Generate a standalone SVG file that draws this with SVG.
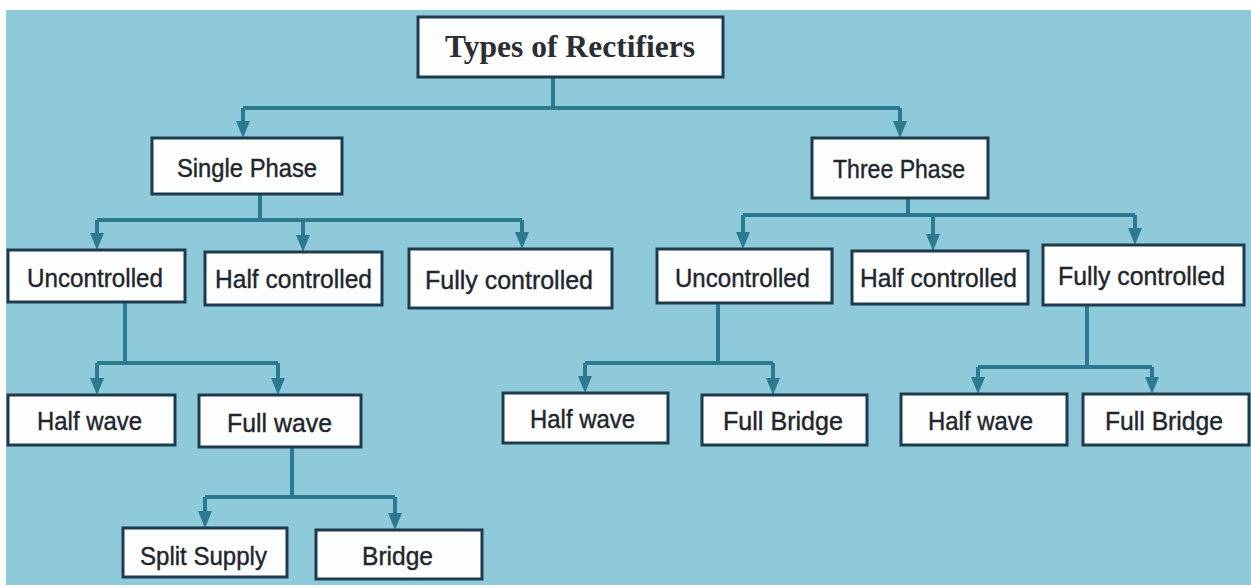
<svg xmlns="http://www.w3.org/2000/svg" width="1251" height="587" viewBox="0 0 1251 587">
<defs>
<style>
.bg{fill:#8FCADB}
.box{fill:#FCFDFD;stroke:#1E3B4E;stroke-width:3}
.lbl{font-family:"Liberation Sans",Arial,sans-serif;font-size:26px;fill:#1E262C;stroke:#1E262C;stroke-width:0.4}
.ttl{font-family:"Liberation Serif","Times New Roman",serif;font-size:31px;font-weight:bold;fill:#2A2F33}
.ln{fill:none;stroke:#2C7A90;stroke-width:4}
.ah{fill:#2C7A90}
</style>
</defs>
<rect class="bg" x="6" y="10" width="1245" height="575"/>
<g id="connectors">
<path class="ln" d="M553,77 V108 M243,108 H900 M243,108 V124 M900,108 V124"/>
<path class="ln" d="M260,194 V220 M97,220 H522 M97,220 V236 M303,220 V238 M522,220 V235"/>
<path class="ln" d="M908,198 V215 M743,215 H1135 M743,215 V235 M933,215 V237 M1135,215 V231"/>
<path class="ln" d="M125,302 V363 M97,363 H278 M97,363 V381 M278,363 V381"/>
<path class="ln" d="M292,447 V497 M205,497 H395 M205,497 V514 M395,497 V516"/>
<path class="ln" d="M718,303 V363 M585,363 H773 M585,363 V379 M773,363 V381"/>
<path class="ln" d="M1087,305 V367 M978,367 H1152 M978,367 V380 M1152,367 V380"/>
<polygon class="ah" points="236,121 250,121 243,138"/>
<polygon class="ah" points="893,121 907,121 900,138"/>
<polygon class="ah" points="90,233 104,233 97,250"/>
<polygon class="ah" points="296,235 310,235 303,252"/>
<polygon class="ah" points="515,232 529,232 522,249"/>
<polygon class="ah" points="736,232 750,232 743,249"/>
<polygon class="ah" points="926,234 940,234 933,251"/>
<polygon class="ah" points="1128,228 1142,228 1135,245"/>
<polygon class="ah" points="90,378 104,378 97,395"/>
<polygon class="ah" points="271,378 285,378 278,395"/>
<polygon class="ah" points="198,511 212,511 205,528"/>
<polygon class="ah" points="388,513 402,513 395,530"/>
<polygon class="ah" points="578,376 592,376 585,393"/>
<polygon class="ah" points="766,378 780,378 773,395"/>
<polygon class="ah" points="971,377 985,377 978,394"/>
<polygon class="ah" points="1145,377 1159,377 1152,394"/>
</g>
<g id="n-root"><rect class="box" x="418" y="17" width="305" height="60"/><text class="ttl" x="445" y="57" textLength="250" lengthAdjust="spacingAndGlyphs">Types of Rectifiers</text></g>
<g id="n-single"><rect class="box" x="152" y="138" width="190" height="56"/><text class="lbl" x="177" y="177" textLength="140" lengthAdjust="spacingAndGlyphs">Single Phase</text></g>
<g id="n-three"><rect class="box" x="812" y="138" width="176" height="60"/><text class="lbl" x="833" y="178" textLength="132" lengthAdjust="spacingAndGlyphs">Three Phase</text></g>
<g id="n-unc-l"><rect class="box" x="8" y="250" width="177" height="52"/><text class="lbl" x="27" y="287" textLength="136" lengthAdjust="spacingAndGlyphs">Uncontrolled</text></g>
<g id="n-half-l"><rect class="box" x="205" y="252" width="177" height="53"/><text class="lbl" x="215" y="288" textLength="157" lengthAdjust="spacingAndGlyphs">Half controlled</text></g>
<g id="n-fully-l"><rect class="box" x="409" y="249" width="203" height="59"/><text class="lbl" x="425" y="289" textLength="168" lengthAdjust="spacingAndGlyphs">Fully controlled</text></g>
<g id="n-unc-r"><rect class="box" x="657" y="249" width="175" height="54"/><text class="lbl" x="675" y="287" textLength="135" lengthAdjust="spacingAndGlyphs">Uncontrolled</text></g>
<g id="n-half-r"><rect class="box" x="852" y="251" width="176" height="53"/><text class="lbl" x="860" y="287" textLength="157" lengthAdjust="spacingAndGlyphs">Half controlled</text></g>
<g id="n-fully-r"><rect class="box" x="1043" y="245" width="201" height="60"/><text class="lbl" x="1058" y="285" textLength="167" lengthAdjust="spacingAndGlyphs">Fully controlled</text></g>
<g id="n-halfwave-l"><rect class="box" x="8" y="395" width="167" height="50"/><text class="lbl" x="37" y="430" textLength="105" lengthAdjust="spacingAndGlyphs">Half wave</text></g>
<g id="n-fullwave"><rect class="box" x="199" y="395" width="162" height="52"/><text class="lbl" x="227" y="432" textLength="105" lengthAdjust="spacingAndGlyphs">Full wave</text></g>
<g id="n-split"><rect class="box" x="123" y="528" width="164" height="49"/><text class="lbl" x="140" y="565" textLength="127" lengthAdjust="spacingAndGlyphs">Split Supply</text></g>
<g id="n-bridge"><rect class="box" x="316" y="530" width="166" height="49"/><text class="lbl" x="362" y="565" textLength="71" lengthAdjust="spacingAndGlyphs">Bridge</text></g>
<g id="n-halfwave-m"><rect class="box" x="503" y="393" width="165" height="50"/><text class="lbl" x="530" y="428" textLength="105" lengthAdjust="spacingAndGlyphs">Half wave</text></g>
<g id="n-fullbridge-m"><rect class="box" x="702" y="395" width="165" height="50"/><text class="lbl" x="723" y="430" textLength="120" lengthAdjust="spacingAndGlyphs">Full Bridge</text></g>
<g id="n-halfwave-r"><rect class="box" x="901" y="394" width="166" height="51"/><text class="lbl" x="928" y="430" textLength="105" lengthAdjust="spacingAndGlyphs">Half wave</text></g>
<g id="n-fullbridge-r"><rect class="box" x="1083" y="394" width="166" height="51"/><text class="lbl" x="1105" y="430" textLength="118" lengthAdjust="spacingAndGlyphs">Full Bridge</text></g>
</svg>
